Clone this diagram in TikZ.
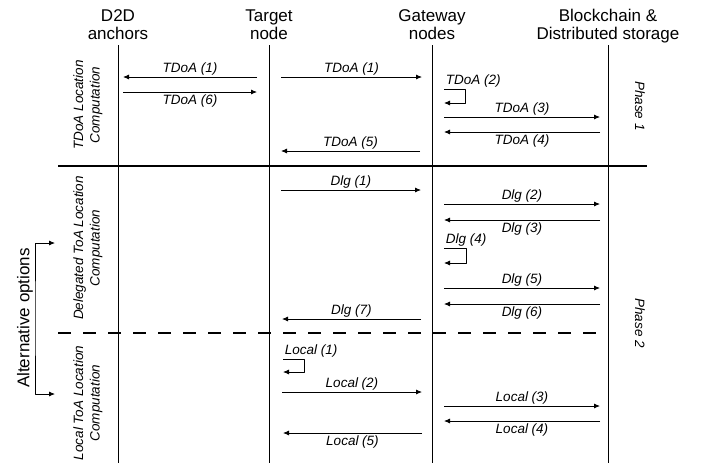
\documentclass[tikz,border=0pt]{standalone}
\usepackage{fontspec}
\setmainfont{Liberation Sans}
\usetikzlibrary{arrows.meta}
\begin{document}
\begin{tikzpicture}[x=1pt,y=-1pt,>={Latex[length=6pt,width=5pt]},line join=round,
	head/.style={anchor=south,inner sep=0pt,align=center,font=\fontsize{17}{18}\selectfont},
	lbl/.style={inner sep=1.5pt,font=\fontsize{13.5}{15}\selectfont\itshape},
	up/.style={above},
	dn/.style={below=1pt},
	side/.style={rotate=90,align=center,font=\fontsize{13.5}{16.5}\selectfont\itshape},
	phase/.style={rotate=-90,font=\fontsize{13.5}{15}\selectfont\itshape},
	life/.style={line width=.8pt},
	msg/.style={->,line width=.8pt},
	sep/.style={line width=2.4pt}]
	\useasboundingbox (0,0) rectangle (718,466);
	% lifelines
	\node[head] (anc) at (118,45) {D2D\\anchors\strut};
	\node[head] (tgt) at (269,45) {Target\\node\strut};
	\node[head] (gw) at (432,45) {Gateway\\nodes\strut};
	\node[head] (bc) at (608,45) {Blockchain \&\\Distributed storage\strut};
	\foreach \n in {anc,tgt,gw,bc}
		\draw[life] (\n.south) -- ++(0,418);
	
	% phases
	\draw[sep] (58,166) -- (647,166);
	\draw[sep,dash pattern=on 13pt off 12pt] (58,333) -- (608,333);
	\node[phase] (p1) at (640,106) {Phase 1};
	\node[phase] (p2) at (640,323) {Phase 2};
	\node[side] (c1) at (88,105) {TDoA Location\\Computation};
	\node[side] (c2) at (88,248) {Delegated ToA Location\\Computation};
	\node[side] (c3) at (88,403) {Local ToA Location\\Computation};
	\node[rotate=90,font=\fontsize{17}{18}\selectfont] (alt) at (25,318) {Alternative options};
	\coordinate (o1) at (55,243);
	\coordinate (o2) at (55,394);
	\draw[msg,<->] (o1) -| (35,318) |- (o2);
	
	% messages
	\foreach \y/\xa/\xb/\t/\p [count=\i] in {
		77/257/123/TDoA (1)/up, 77/281/422/TDoA (1)/up,
		92/123/257/TDoA (6)/dn, 117/444/600/TDoA (3)/up,
		132/600/444/TDoA (4)/dn, 151/420/281/TDoA (5)/up,
		190/281/421/Dlg (1)/up, 204/444/600/Dlg (2)/up,
		220/600/444/Dlg (3)/dn, 288/444/600/Dlg (5)/up,
		304/600/444/Dlg (6)/dn, 319/421/282/Dlg (7)/up,
		392/282/422/Local (2)/up, 406/444/600/Local (3)/up,
		421/600/444/Local (4)/dn, 433/422/283/Local (5)/dn}
		\draw[msg] (\xa,\y) -- node[lbl,\p] (m\i) {\t} (\xb,\y);
	
	% self messages
	\draw[msg] (444,89) node[lbl,anchor=south west] (s1) {TDoA (2)} -| (465,103) -- (444,103);
	\draw[msg] (444,248) node[lbl,anchor=south west] (s2) {Dlg (4)} -| (466,263) -- (444,263);
	\draw[msg] (283,359) node[lbl,anchor=south west] (s3) {Local (1)} -| (304,372) -- (283,372);
	
\end{tikzpicture}
\end{document}
